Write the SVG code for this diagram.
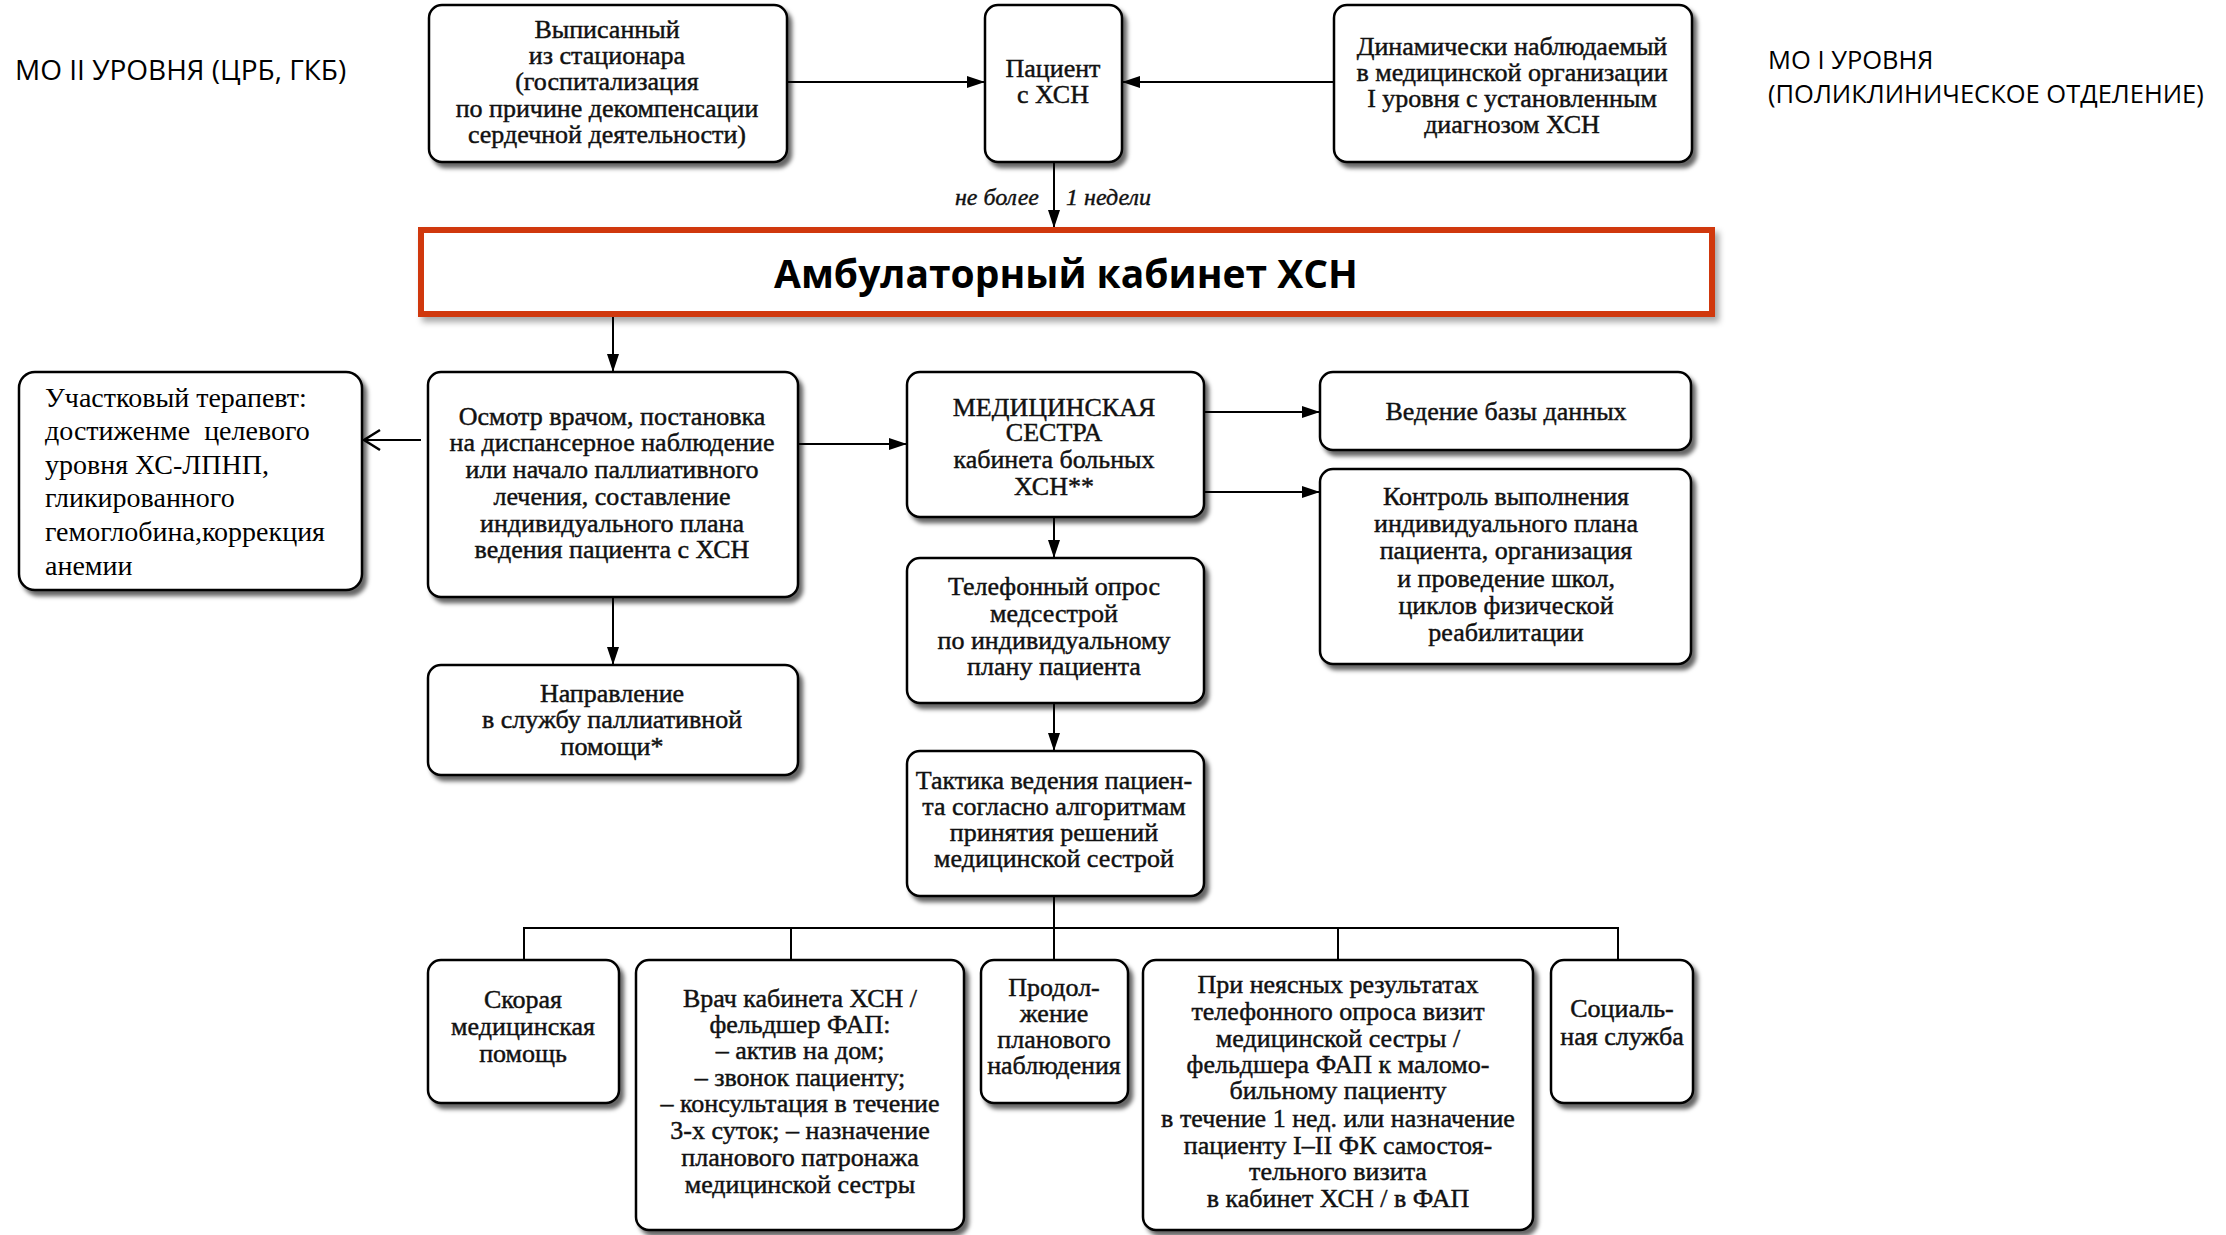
<svg xmlns="http://www.w3.org/2000/svg" width="2226" height="1235" viewBox="0 0 2226 1235">
<defs>
<filter id="sh" x="-10%" y="-10%" width="130%" height="140%">
<feDropShadow dx="4" dy="5" stdDeviation="2.2" flood-color="#000" flood-opacity="0.6"/>
</filter>
<filter id="sh2" x="-5%" y="-20%" width="110%" height="150%">
<feDropShadow dx="4" dy="5" stdDeviation="3" flood-color="#000" flood-opacity="0.35"/>
</filter>
<marker id="ah" markerUnits="userSpaceOnUse" markerWidth="18" markerHeight="12" refX="18" refY="6" orient="auto">
<path d="M0,0 L18,6 L0,12 Z" fill="#000"/>
</marker>
<marker id="oa" markerUnits="userSpaceOnUse" markerWidth="22" markerHeight="24" refX="19" refY="12" orient="auto">
<path d="M3,2 L19,12 L3,22" fill="none" stroke="#000" stroke-width="2.5"/>
</marker>
<style>
.box{fill:#fff;stroke:#000;stroke-width:2.5;filter:url(#sh)}
.t{font-family:"Liberation Serif","DejaVu Serif",serif;font-size:26px;text-anchor:middle;fill:#111;stroke:#111;stroke-width:0.45}
.l{font-family:"Liberation Serif","DejaVu Serif",serif;font-size:28px;fill:#000}
.h{font-family:"Open Sans","Liberation Sans",sans-serif;fill:#000}
.c{stroke:#000;stroke-width:2;fill:none}
.a{marker-end:url(#ah)}
.it{font-family:"Liberation Serif","DejaVu Serif",serif;font-style:italic;font-size:24px;fill:#111;stroke:#111;stroke-width:0.4}
</style>
</defs>

<text class="h" x="15" y="80" font-size="28">МО II УРОВНЯ (ЦРБ, ГКБ)</text>
<text class="h" x="1768" y="69" font-size="25.5">МО I УРОВНЯ</text>
<text class="h" x="1768" y="103" font-size="25.5">(ПОЛИКЛИНИЧЕСКОЕ ОТДЕЛЕНИЕ)</text>

<g id="connectors">
<line class="c a" x1="787" y1="82" x2="985" y2="82"/>
<line class="c a" x1="1334" y1="82" x2="1122" y2="82"/>
<line class="c a" x1="1054" y1="162" x2="1054" y2="228"/>
<line class="c a" x1="613" y1="317" x2="613" y2="372"/>
<line class="c" x1="421" y1="440" x2="364" y2="440" marker-end="url(#oa)"/>
<line class="c a" x1="798" y1="444" x2="907" y2="444"/>
<line class="c a" x1="1204" y1="412" x2="1320" y2="412"/>
<line class="c a" x1="1204" y1="492" x2="1320" y2="492"/>
<line class="c a" x1="613" y1="597" x2="613" y2="665"/>
<line class="c a" x1="1054" y1="517" x2="1054" y2="558"/>
<line class="c a" x1="1054" y1="703" x2="1054" y2="751"/>
<path class="c" d="M1054,896 V928 M524,960 V928 H1618 V960 M791,928 V960 M1054,928 V960 M1338,928 V960"/>
<text class="it" x="1039" y="205" text-anchor="end">не более</text>
<text class="it" x="1066" y="205">1 недели</text>
</g>

<g id="n-vypisanny">
<rect class="box" x="429" y="5" width="358" height="157" rx="13"/>
<text class="t" x="607" y="38">Выписанный</text>
<text class="t" x="607" y="64">из стационара</text>
<text class="t" x="607" y="90">(госпитализация</text>
<text class="t" x="607" y="117">по причине декомпенсации</text>
<text class="t" x="607" y="143">сердечной деятельности)</text>
</g>

<g id="n-patient">
<rect class="box" x="985" y="5" width="137" height="157" rx="13"/>
<text class="t" x="1053" y="77" font-size="29">Пациент</text>
<text class="t" x="1053" y="103" font-size="29">с ХСН</text>
</g>

<g id="n-dynamic">
<rect class="box" x="1334" y="5" width="358" height="157" rx="13"/>
<text class="t" x="1512" y="55">Динамически наблюдаемый</text>
<text class="t" x="1512" y="81">в медицинской организации</text>
<text class="t" x="1512" y="107">I уровня с установленным</text>
<text class="t" x="1512" y="133">диагнозом ХСН</text>
</g>

<g id="n-amb">
<rect x="421" y="230" width="1291" height="84" fill="#fff" stroke="#D0390F" stroke-width="6" filter="url(#sh2)"/>
<text class="h" x="1066" y="288" font-size="39" font-weight="bold" text-anchor="middle">Амбулаторный кабинет ХСН</text>
</g>

<g id="n-therapist">
<rect class="box" x="19" y="372" width="343" height="218" rx="16" stroke-width="3.2"/>
<text class="l" x="45" y="407">Участковый терапевт:</text>
<text class="l" x="45" y="440" xml:space="preserve">достиженме  целевого</text>
<text class="l" x="45" y="474">уровня ХС-ЛПНП,</text>
<text class="l" x="45" y="507">гликированного</text>
<text class="l" x="45" y="541">гемоглобина,коррекция</text>
<text class="l" x="45" y="575">анемии</text>
</g>

<g id="n-osmotr">
<rect class="box" x="428" y="372" width="370" height="225" rx="13"/>
<text class="t" x="612" y="425">Осмотр врачом, постановка</text>
<text class="t" x="612" y="451">на диспансерное наблюдение</text>
<text class="t" x="612" y="478">или начало паллиативного</text>
<text class="t" x="612" y="505">лечения, составление</text>
<text class="t" x="612" y="532">индивидуального плана</text>
<text class="t" x="612" y="558">ведения пациента с ХСН</text>
</g>

<g id="n-palliative">
<rect class="box" x="428" y="665" width="370" height="110" rx="13"/>
<text class="t" x="612" y="702">Направление</text>
<text class="t" x="612" y="728">в службу паллиативной</text>
<text class="t" x="612" y="755">помощи*</text>
</g>

<g id="n-nurse">
<rect class="box" x="907" y="372" width="297" height="145" rx="13"/>
<text class="t" x="1054" y="416" font-size="31">МЕДИЦИНСКАЯ</text>
<text class="t" x="1054" y="441" font-size="31">СЕСТРА</text>
<text class="t" x="1054" y="468">кабинета больных</text>
<text class="t" x="1054" y="495" font-size="29">ХСН**</text>
</g>

<g id="n-database">
<rect class="box" x="1320" y="372" width="371" height="78" rx="13"/>
<text class="t" x="1506" y="420">Ведение базы данных</text>
</g>

<g id="n-control">
<rect class="box" x="1320" y="469" width="371" height="195" rx="13"/>
<text class="t" x="1506" y="505">Контроль выполнения</text>
<text class="t" x="1506" y="532">индивидуального плана</text>
<text class="t" x="1506" y="559">пациента, организация</text>
<text class="t" x="1506" y="587">и проведение школ,</text>
<text class="t" x="1506" y="614">циклов физической</text>
<text class="t" x="1506" y="641">реабилитации</text>
</g>

<g id="n-phone">
<rect class="box" x="907" y="558" width="297" height="145" rx="13"/>
<text class="t" x="1054" y="595">Телефонный опрос</text>
<text class="t" x="1054" y="622">медсестрой</text>
<text class="t" x="1054" y="649">по индивидуальному</text>
<text class="t" x="1054" y="675">плану пациента</text>
</g>

<g id="n-tactics">
<rect class="box" x="907" y="751" width="297" height="145" rx="13"/>
<text class="t" x="1054" y="789">Тактика ведения пациен-</text>
<text class="t" x="1054" y="815">та согласно алгоритмам</text>
<text class="t" x="1054" y="841">принятия решений</text>
<text class="t" x="1054" y="867">медицинской сестрой</text>
</g>

<g id="n-ambulance">
<rect class="box" x="428" y="960" width="191" height="143" rx="13"/>
<text class="t" x="523" y="1008">Скорая</text>
<text class="t" x="523" y="1035">медицинская</text>
<text class="t" x="523" y="1062">помощь</text>
</g>

<g id="n-doctor">
<rect class="box" x="636" y="960" width="328" height="270" rx="13"/>
<text class="t" x="800" y="1007">Врач кабинета ХСН /</text>
<text class="t" x="800" y="1033">фельдшер ФАП:</text>
<text class="t" x="800" y="1059">– актив на дом;</text>
<text class="t" x="800" y="1086">– звонок пациенту;</text>
<text class="t" x="800" y="1112">– консультация в течение</text>
<text class="t" x="800" y="1139">3-х суток; – назначение</text>
<text class="t" x="800" y="1166">планового патронажа</text>
<text class="t" x="800" y="1193">медицинской сестры</text>
</g>

<g id="n-continue">
<rect class="box" x="981" y="960" width="147" height="143" rx="13"/>
<text class="t" x="1054" y="996">Продол-</text>
<text class="t" x="1054" y="1022">жение</text>
<text class="t" x="1054" y="1048">планового</text>
<text class="t" x="1054" y="1074">наблюдения</text>
</g>

<g id="n-unclear">
<rect class="box" x="1143" y="960" width="390" height="270" rx="13"/>
<text class="t" x="1338" y="993">При неясных результатах</text>
<text class="t" x="1338" y="1020">телефонного опроса визит</text>
<text class="t" x="1338" y="1047">медицинской сестры /</text>
<text class="t" x="1338" y="1073">фельдшера ФАП к маломо-</text>
<text class="t" x="1338" y="1099">бильному пациенту</text>
<text class="t" x="1338" y="1127">в течение 1 нед. или назначение</text>
<text class="t" x="1338" y="1154">пациенту I–II ФК самостоя-</text>
<text class="t" x="1338" y="1180">тельного визита</text>
<text class="t" x="1338" y="1207">в кабинет ХСН / в ФАП</text>
</g>

<g id="n-social">
<rect class="box" x="1551" y="960" width="142" height="143" rx="13"/>
<text class="t" x="1622" y="1017">Социаль-</text>
<text class="t" x="1622" y="1045">ная служба</text>
</g>
</svg>
